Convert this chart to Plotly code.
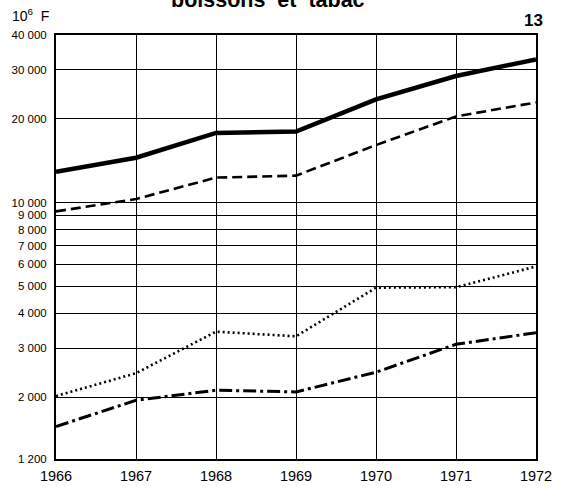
import plotly.graph_objects as go

years = [1966, 1967, 1968, 1969, 1970, 1971, 1972]
year_labels = ["1966", "1967", "1968", "1969", "1970", "1971", "1972"]

series_solid = [12900, 14500, 17800, 18000, 23500, 28500, 32700]
series_dashed = [9300, 10300, 12300, 12500, 16100, 20400, 22900]
series_dotted = [2020, 2440, 3440, 3310, 4950, 4970, 5900]
series_dashdot = [1570, 1950, 2120, 2090, 2460, 3100, 3410]

y_ticks = [1200, 2000, 3000, 4000, 5000, 6000, 7000, 8000, 9000, 10000, 20000, 30000, 40000]
y_tick_labels = ["1 200", "2 000", "3 000", "4 000", "5 000", "6 000", "7 000",
                 "8 000", "9 000", "10 000", "20 000", "30 000", "40 000"]

FONT = "Liberation Sans, Arial, sans-serif"

fig = go.Figure()
fig.add_trace(go.Scatter(x=years, y=series_solid, mode="lines",
                         line=dict(color="black", width=4.5), showlegend=False))
fig.add_trace(go.Scatter(x=years, y=series_dashed, mode="lines",
                         line=dict(color="black", width=2.6, dash="10px,5px"), showlegend=False))
fig.add_trace(go.Scatter(x=years, y=series_dotted, mode="lines",
                         line=dict(color="black", width=2.6, dash="2px,3px"), showlegend=False))
fig.add_trace(go.Scatter(x=years, y=series_dashdot, mode="lines",
                         line=dict(color="black", width=3, dash="13px,4px,3px,4px"), showlegend=False))

fig.update_layout(
    width=564, height=496,
    margin=dict(l=55, r=18, t=35, b=34),
    paper_bgcolor="white", plot_bgcolor="white",
    font=dict(family=FONT, color="black"),
    xaxis=dict(range=[1966, 1972], tickvals=years, ticktext=year_labels,
               showgrid=True, gridcolor="black", gridwidth=1,
               showline=True, linecolor="black", linewidth=2, mirror=True,
               ticks="", ticklabelstandoff=3,
               tickfont=dict(size=14.5, family=FONT), zeroline=False),
    yaxis=dict(type="log", range=[3.0792, 4.6021], tickvals=y_ticks, ticktext=y_tick_labels,
               showgrid=True, gridcolor="black", gridwidth=1,
               showline=True, linecolor="black", linewidth=2, mirror=True,
               ticks="", ticklabelstandoff=5,
               tickfont=dict(size=11.5, family=FONT), zeroline=False),
)

fig.add_annotation(text="<b>boissons\u00a0\u00a0et\u00a0\u00a0tabac</b>", xref="paper", yref="paper",
                   x=0.442, y=1, xanchor="center", yanchor="bottom", yshift=21,
                   showarrow=False, font=dict(size=21.5, family=FONT))
fig.add_annotation(text="10<sup>6</sup>\u00a0\u00a0F", xref="paper", yref="paper",
                   x=-0.095, y=1, xanchor="left", yanchor="bottom", yshift=9,
                   showarrow=False, font=dict(size=14, family=FONT))
fig.add_annotation(text="<b>13</b>", xref="paper", yref="paper",
                   x=1, y=1, xanchor="right", yanchor="bottom", yshift=3, xshift=9,
                   showarrow=False, font=dict(size=17, family=FONT))

fig.write_html("out.html", config={"displayModeBar": False},
               post_script="document.body.style.margin='0';")
